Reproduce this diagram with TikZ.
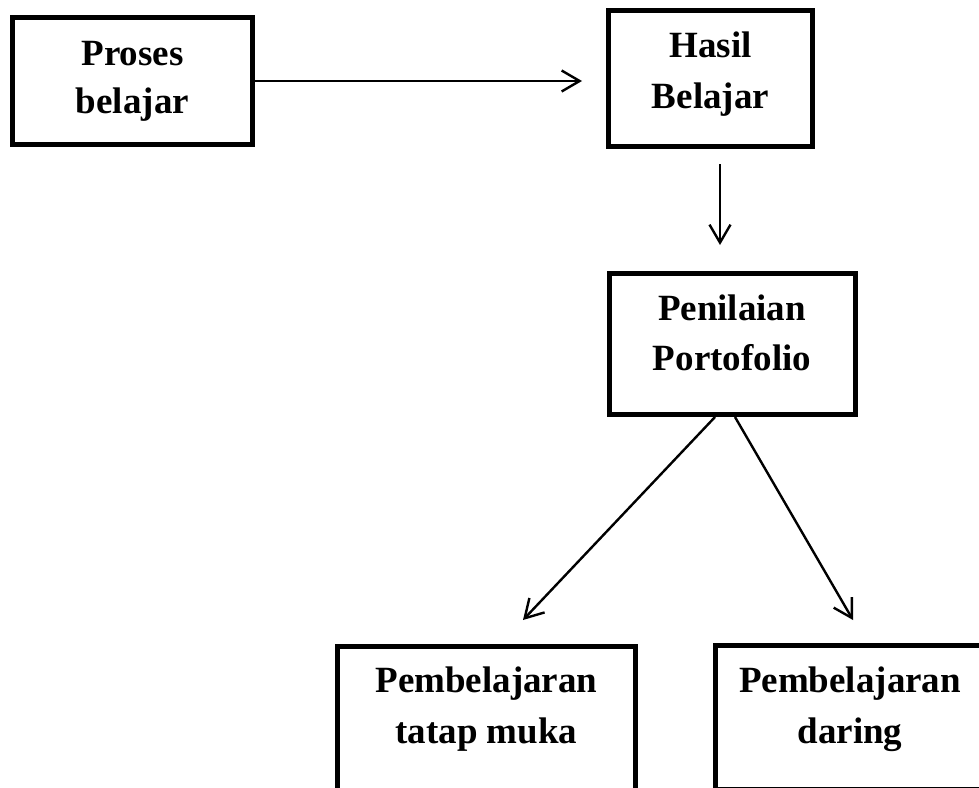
\documentclass[tikz,border=0pt]{standalone}
\usepackage{fontspec}
\setmainfont{Liberation Serif}
\usetikzlibrary{arrows.meta,calc}
\tikzset{
  box/.style={draw, line width=5pt, rectangle, inner sep=0pt, fill=white},
  lbl/.style={anchor=base, inner sep=0pt, font=\fontsize{37}{44}\selectfont\bfseries},
  arr/.style={line width=2.4pt, -{Straight Barb[length=18pt,width=21pt,line width=2.4pt]}}
}
\begin{document}
\begin{tikzpicture}[x=1pt,y=-1pt]
\useasboundingbox (0,0) rectangle (979,787);
\clip (0,0) rectangle (979,787);
% boxes
\node[box, minimum width=240pt, minimum height=127pt] (proses) at (132.5,81) {};
\node[box, minimum width=204pt, minimum height=136pt] (hasil) at (710.5,78.5) {};
\node[box, minimum width=246pt, minimum height=141pt] (pen) at (732.5,344) {};
\node[box, minimum width=298pt, minimum height=174pt] (tatap) at (486.5,733.5) {};
\node[box, minimum width=270pt, minimum height=143.5pt] (daring) at (850.5,717.25) {};
% texts
\node[lbl] (proses1) at (132.5,65) {Proses};
\node[lbl] (proses2) at (132.5,113) {belajar};
\node[lbl] (hasil1) at (710.5,57.5) {Hasil};
\node[lbl] (hasil2) at (710.5,108) {Belajar};
\node[lbl] (pen1) at (732,320) {Penilaian};
\node[lbl] (pen2) at (732,370) {Portofolio};
\node[lbl] (tatap1) at (486.5,692) {Pembelajaran};
\node[lbl] (tatap2) at (486.5,743) {tatap muka};
\node[lbl] (daring1) at (850,692) {Pembelajaran};
\node[lbl] (daring2) at (850,743) {daring};
% connectors
\coordinate (htip) at (582,81);
\coordinate (dstart) at (720,164);
\coordinate (dtip) at (720,245);
\coordinate (ltip) at (523,620);
\coordinate (rtip) at (853,620);
\draw[arr] (proses.east) -- (htip);
\draw[arr] (dstart) -- (dtip);
\draw[arr] ([xshift=-17.5pt]pen.south) -- (ltip);
\draw[arr] ([xshift=2.5pt]pen.south) -- (rtip);
\end{tikzpicture}
\end{document}
